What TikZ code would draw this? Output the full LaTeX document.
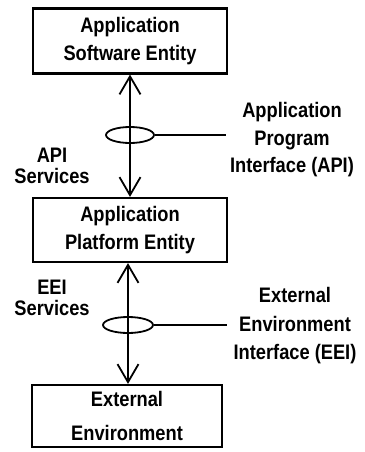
\documentclass[tikz,border=0pt]{standalone}
\usepackage{fontspec}
\setmainfont{Liberation Sans}[FakeStretch=0.87]
\usetikzlibrary{arrows.meta,shapes.geometric}
\begin{document}
\begin{tikzpicture}[x=1pt,y=-1pt,
  box/.style={draw,line width=2.2pt,minimum width=194pt,minimum height=65pt,inner sep=0pt,align=center},
  txt/.style={font=\fontsize{21}{27.5}\selectfont\bfseries,align=center,inner sep=0pt},
  tight/.style={font=\fontsize{21}{21.5}\selectfont\bfseries,align=center,inner sep=0pt},
  conn/.style={line width=1.8pt,{Straight Barb[length=18pt,width=21pt]}-{Straight Barb[length=18pt,width=21pt]}},
  ring/.style={draw,ellipse,line width=1.8pt,minimum width=48pt,minimum height=16pt,inner sep=0pt},
  lead/.style={line width=1.8pt}]
\useasboundingbox (0,0) rectangle (364,452);
% boxes
\node[box,txt] (ase) at (130,41) {Application\\Software Entity};
\node[box,txt,minimum height=64pt] (ape) at (130,230) {Application\\Platform Entity};
\node[box,txt,minimum width=190pt,minimum height=62pt] (ee) at (127,416) {External\\[6pt]Environment};
% interface rings
\node[ring] (r1) at (130,135) {};
\node[ring,minimum width=50pt] (r2) at (128,325) {};
% connectors
\draw[conn] (ase.south -| r1.center) -- (ape.north -| r1.center);
\draw[conn] (ape.south -| r2.center) -- (ee.north -| r2.center);
% leaders
\coordinate (apiend) at (226,135);
\coordinate (eeiend) at (227,325);
\draw[lead] (r1.east) -- (apiend);
\draw[lead] (r2.east) -- (eeiend);
% labels
\node[txt] (apilbl) at (292,140) {Application\\Program\\Interface (API)};
\node[txt,font=\fontsize{21}{28.5}\selectfont\bfseries] (eeilbl) at (295,326) {External\\Environment\\Interface (EEI)};
\node[tight] (apisvc) at (52,166) {API\\Services};
\node[tight,font=\fontsize{21}{20.5}\selectfont\bfseries] (eeisvc) at (52,298) {EEI\\Services};
\end{tikzpicture}
\end{document}
